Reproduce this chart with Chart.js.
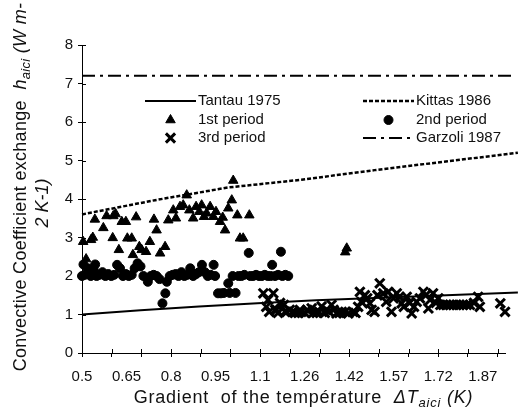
<!DOCTYPE html>
<html>
<head>
<meta charset="utf-8">
<script src="https://cdn.jsdelivr.net/npm/chart.js@4.4.1/dist/chart.umd.min.js"></script>
<style>
  html, body { margin: 0; padding: 0; background: #fff; }
  #wrap { width: 524px; height: 412px; position: relative; }
</style>
</head>
<body>
<div id="wrap"><canvas id="hChart"></canvas></div>
<script>
// x axis: category-like spacing, a tick mark every 10 samples, a label every 15
const xTickLabels = ['0.5', '0.65', '0.8', '0.95', '1.1', '1.26', '1.42', '1.57', '1.72', '1.87'];
const xMin = 0.5, xMax = 1.946, labelStep = 0.15225;
const yMin = 0, yMax = 8, yStep = 1;

// model curves
const tantauX = [0.5, 0.7, 0.9, 1.1, 1.3, 1.5, 1.7, 1.99];
const tantauY = [1.0, 1.11, 1.21, 1.29, 1.37, 1.43, 1.49, 1.57];
const kittasX = [0.5, 0.75, 1.0, 1.25, 1.5, 1.75, 1.99];
const kittasY = [3.6, 3.97, 4.3, 4.5, 4.75, 4.98, 5.2];
const garzoliX = [0.5, 1.97];
const garzoliY = [7.2, 7.2];

// measured periods
const period1X = [0.504, 0.514, 0.531, 0.537, 0.544, 0.573, 0.584, 0.605, 0.607, 0.615, 0.626, 0.636, 0.65, 0.655, 0.67, 0.674, 0.685, 0.696, 0.704, 0.719, 0.732, 0.746, 0.755, 0.767, 0.784, 0.795, 0.812, 0.821, 0.835, 0.846, 0.858, 0.867, 0.88, 0.89, 0.901, 0.909, 0.917, 0.926, 0.938, 0.949, 0.958, 0.972, 0.981, 0.989, 1.0, 1.012, 1.017, 1.031, 1.04, 1.051, 1.072, 1.4, 1.405];
const period1Y = [2.89, 2.44, 2.94, 3.0, 3.47, 3.25, 3.56, 2.99, 3.56, 3.61, 2.68, 3.41, 3.41, 2.98, 2.98, 2.55, 3.53, 2.76, 2.68, 2.63, 2.89, 3.47, 3.19, 2.59, 2.76, 3.45, 3.71, 3.5, 3.8, 3.84, 4.1, 3.71, 3.5, 3.8, 3.67, 3.84, 3.54, 3.63, 3.8, 3.54, 3.67, 3.41, 3.52, 3.19, 3.76, 3.97, 4.48, 3.58, 2.98, 2.98, 3.58, 2.62, 2.72];

const period2X = [0.5, 0.505, 0.51, 0.52, 0.53, 0.54, 0.545, 0.55, 0.56, 0.57, 0.58, 0.59, 0.6, 0.61, 0.62, 0.63, 0.64, 0.65, 0.66, 0.67, 0.68, 0.69, 0.7, 0.71, 0.725, 0.735, 0.745, 0.755, 0.765, 0.775, 0.785, 0.79, 0.8, 0.81, 0.82, 0.83, 0.84, 0.85, 0.86, 0.87, 0.88, 0.89, 0.9, 0.91, 0.92, 0.93, 0.94, 0.95, 0.955, 0.965, 0.975, 0.985, 1.0, 1.005, 1.015, 1.025, 1.035, 1.045, 1.055, 1.07, 1.075, 1.085, 1.095, 1.105, 1.115, 1.125, 1.135, 1.145, 1.15, 1.16, 1.17, 1.18, 1.185, 1.195, 1.205];
const period2Y = [2.0, 2.3, 2.03, 2.2, 2.0, 2.16, 2.3, 2.0, 2.03, 2.1, 2.0, 2.05, 2.0, 2.03, 2.29, 2.2, 2.0, 2.05, 2.0, 2.03, 2.2, 2.33, 2.25, 2.0, 1.85, 2.0, 2.03, 2.0, 1.92, 1.29, 1.55, 1.85, 2.0, 2.03, 2.05, 2.0, 2.1, 2.0, 2.03, 2.2, 2.0, 2.05, 2.1, 2.29, 2.1, 2.0, 2.03, 2.29, 2.0, 1.55, 1.55, 1.56, 1.81, 1.56, 2.0, 1.56, 2.0, 2.0, 2.03, 2.6, 2.0, 2.0, 2.03, 2.0, 2.0, 2.03, 2.0, 2.0, 2.29, 2.0, 2.03, 2.63, 2.0, 2.03, 2.0];

const period3X = [1.12, 1.13, 1.136, 1.14, 1.154, 1.16, 1.165, 1.17, 1.177, 1.19, 1.194, 1.2, 1.21, 1.22, 1.228, 1.24, 1.245, 1.25, 1.262, 1.27, 1.285, 1.29, 1.302, 1.31, 1.319, 1.33, 1.336, 1.345, 1.353, 1.36, 1.37, 1.38, 1.388, 1.4, 1.41, 1.427, 1.435, 1.444, 1.45, 1.455, 1.467, 1.475, 1.484, 1.49, 1.5, 1.51, 1.518, 1.53, 1.54, 1.547, 1.558, 1.565, 1.576, 1.585, 1.593, 1.6, 1.61, 1.62, 1.627, 1.635, 1.644, 1.655, 1.667, 1.675, 1.684, 1.69, 1.7, 1.71, 1.718, 1.725, 1.735, 1.745, 1.758, 1.77, 1.78, 1.79, 1.803, 1.815, 1.826, 1.84, 1.854, 1.86, 1.93, 1.946, 1.955, 1.97, 1.98, 1.99];
const period3Y = [1.55, 1.2, 1.38, 1.07, 1.55, 1.12, 1.12, 1.04, 1.3, 1.25, 1.07, 1.07, 1.12, 1.07, 1.04, 1.04, 1.12, 1.07, 1.04, 1.12, 1.16, 1.04, 1.04, 1.07, 1.21, 1.04, 1.12, 1.07, 1.25, 1.12, 1.03, 1.04, 1.07, 1.07, 1.03, 1.07, 1.04, 1.2, 1.59, 1.33, 1.5, 1.42, 1.29, 1.12, 1.07, 1.5, 1.81, 1.55, 1.33, 1.59, 1.07, 1.42, 1.55, 1.46, 1.29, 1.2, 1.46, 1.3, 1.03, 1.2, 1.33, 1.42, 1.59, 1.5, 1.16, 1.38, 1.55, 1.3, 1.42, 1.25, 1.25, 1.25, 1.25, 1.25, 1.25, 1.25, 1.25, 1.25, 1.25, 1.3, 1.46, 1.2, 1.29, 1.07, 1.03, 1.03, 1.07, 1.03];

const toPoints = (xs, ys) => xs.map((x, i) => ({ x: x, y: ys[i] }));

const INK = '#000';
const FONT = "'Liberation Sans', Arial, sans-serif";

// rich text helper: segments of {t, it, sub}
function drawRich(ctx, segs, size, cx, cy, spacing) {
    const fontOf = (s) => (s.it ? 'italic ' : '') + (s.sub ? Math.round(size * 0.7) : size) + 'px ' + FONT;
    ctx.letterSpacing = (spacing || 0) + 'px';
    let total = 0;
    segs.forEach(s => { ctx.font = fontOf(s); total += ctx.measureText(s.t).width; });
    let x = cx - total / 2;
    ctx.textBaseline = 'middle';
    ctx.textAlign = 'left';
    segs.forEach(s => {
        ctx.font = fontOf(s);
        ctx.fillText(s.t, x, cy + (s.sub ? size * 0.3 : 0));
        x += ctx.measureText(s.t).width;
    });
    ctx.letterSpacing = '0px';
}

const titlesPlugin = {
    id: 'titles',
    afterDraw(chart) {
        const { ctx, chartArea } = chart;
        ctx.save();
        ctx.fillStyle = '#111';
        const midX = (chartArea.left + chartArea.right) / 2;
        drawRich(ctx, [
            { t: 'Gradient  of the température  ' },
            { t: '\u0394T', it: true },
            { t: 'aici', it: true, sub: true },
            { t: ' (K)', it: true }
        ], 18, midX + 10, 398, 0.8);

        ctx.translate(21, 187);
        ctx.rotate(-Math.PI / 2);
        drawRich(ctx, [
            { t: 'Convective Coefficient exchange  ' },
            { t: 'h', it: true },
            { t: 'aici', it: true, sub: true },
            { t: ' (W m-', it: true }
        ], 18, 0, 0, 0.3);
        ctx.restore();
        ctx.save();
        ctx.fillStyle = '#111';
        ctx.translate(43, 203);
        ctx.rotate(-Math.PI / 2);
        drawRich(ctx, [{ t: '2 K-1)', it: true }], 18, 0, 0, 0);
        ctx.restore();
    }
};

// tick marks crossing into the plot
const innerTicks = {
    id: 'innerTicks',
    afterDraw(chart) {
        const { ctx, chartArea, scales } = chart;
        ctx.save();
        ctx.strokeStyle = INK;
        ctx.lineWidth = 1;
        ctx.beginPath();
        scales.x.ticks.forEach((t, i) => {
            if (i % 2) return;
            const px = Math.round(scales.x.getPixelForValue(t.value)) + 0.5;
            ctx.moveTo(px, chartArea.bottom);
            ctx.lineTo(px, chartArea.bottom - 4);
        });
        scales.y.ticks.forEach(t => {
            const py = Math.round(scales.y.getPixelForValue(t.value)) + 0.5;
            ctx.moveTo(chartArea.left, py);
            ctx.lineTo(chartArea.left + 4, py);
        });
        ctx.stroke();
        ctx.restore();
    }
};

// two-column legend inside the plot
const legendPlugin = {
    id: 'boxLegend',
    afterDraw(chart) {
        const { ctx, chartArea } = chart;
        const cols = [chartArea.left + 63, chartArea.left + 281];
        const rows = [chartArea.top + 56, chartArea.top + 75, chartArea.top + 93];
        const sampleW = 51;
        ctx.save();
        chart.data.datasets.forEach((ds, i) => {
            const x0 = cols[i % 2];
            const y0 = rows[Math.floor(i / 2)];
            ctx.strokeStyle = INK;
            ctx.fillStyle = INK;
            if (ds.showLine) {
                ctx.lineWidth = ds.borderWidth;
                ctx.setLineDash(ds.borderDash || []);
                ctx.beginPath();
                ctx.moveTo(x0, y0);
                ctx.lineTo(x0 + sampleW, y0);
                ctx.stroke();
                ctx.setLineDash([]);
            } else {
                ctx.lineWidth = ds.borderWidth;
                Chart.helpers.drawPoint(ctx, {
                    pointStyle: ds.pointStyle,
                    radius: ds.pointRadius,
                    borderWidth: ds.borderWidth,
                    rotation: 0
                }, x0 + sampleW / 2, y0);
            }
            ctx.fillStyle = '#111';
            ctx.font = '15px ' + FONT;
            ctx.textBaseline = 'middle';
            ctx.textAlign = 'left';
            ctx.fillText(ds.label, x0 + sampleW + 2, y0);
        });
        ctx.restore();
    }
};

const lineSet = (label, xs, ys, width, dash) => ({
    label: label,
    data: toPoints(xs, ys),
    showLine: true,
    borderColor: INK,
    borderWidth: width,
    borderDash: dash,
    pointRadius: 0,
    fill: false,
    clip: false,
    order: 0
});
const markSet = (label, xs, ys, style, radius, width) => ({
    label: label,
    data: toPoints(xs, ys),
    showLine: false,
    pointStyle: style,
    pointRadius: radius,
    pointHoverRadius: radius,
    backgroundColor: INK,
    borderColor: INK,
    borderWidth: width,
    clip: false,
    order: 1
});

new Chart(document.getElementById('hChart').getContext('2d'), {
    type: 'scatter',
    data: {
        datasets: [
            lineSet('Tantau 1975', tantauX, tantauY, 2, []),
            lineSet('Kittas 1986', kittasX, kittasY, 2.5, [4, 2]),
            markSet('1st period', period1X, period1Y, 'triangle', 5.5, 1),
            markSet('2nd period', period2X, period2Y, 'circle', 4.5, 1),
            markSet('3rd period', period3X, period3Y, 'crossRot', 6.5, 3),
            lineSet('Garzoli 1987', garzoliX, garzoliY, 2, [13, 5, 3, 5])
        ]
    },
    options: {
        responsive: true,
        maintainAspectRatio: false,
        animation: false,
        layout: { padding: { top: 45, right: 19, bottom: 0, left: 0 } },
        plugins: {
            legend: { display: false },
            tooltip: { enabled: false }
        },
        scales: {
            x: {
                type: 'linear',
                min: xMin,
                max: xMax,
                afterBuildTicks: (scale) => {
                    const ticks = [];
                    for (let j = 0; j <= 28; j++) ticks.push({ value: xMin + j * labelStep / 3 });
                    scale.ticks = ticks;
                },
                afterFit: (scale) => { scale.height = 59; },
                grid: {
                    drawOnChartArea: false,
                    tickLength: 4,
                    tickColor: (c) => (c.index % 2 === 0 ? INK : 'rgba(0,0,0,0)')
                },
                border: { color: INK, width: 1 },
                ticks: {
                    autoSkip: false,
                    maxRotation: 0,
                    minRotation: 0,
                    padding: 11,
                    color: '#111',
                    font: { family: FONT, size: 15 },
                    callback: (v, i) => (i % 3 === 0 ? xTickLabels[i / 3] : '')
                }
            },
            y: {
                min: yMin,
                max: yMax,
                afterFit: (scale) => { scale.width = 82; },
                grid: { drawOnChartArea: false, tickLength: 4, tickColor: INK },
                border: { color: INK, width: 1 },
                ticks: {
                    stepSize: yStep,
                    padding: 5,
                    color: '#111',
                    font: { family: FONT, size: 15 }
                }
            }
        }
    },
    plugins: [innerTicks, legendPlugin, titlesPlugin]
});
</script>
</body>
</html>
